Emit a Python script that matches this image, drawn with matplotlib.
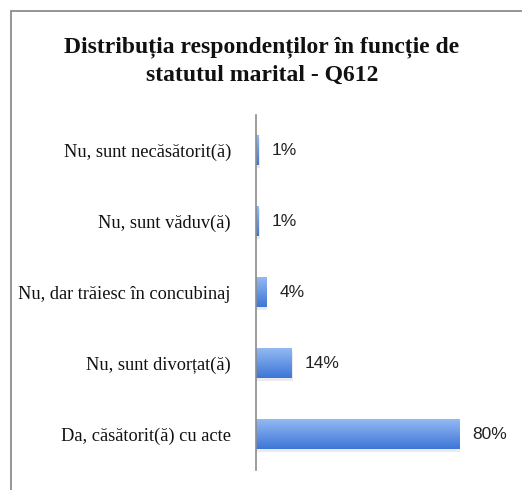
import matplotlib.pyplot as plt
import numpy as np
from matplotlib.patches import Rectangle

categories = [
    "Nu, sunt necăsătorit(ă)",
    "Nu, sunt văduv(ă)",
    "Nu, dar trăiesc în concubinaj",
    "Nu, sunt divorțat(ă)",
    "Da, căsătorit(ă) cu acte",
]
values = [1, 1, 4, 14, 80]
title = "Distribuția respondenților în funcție de\nstatutul marital - Q612"

W, H = 522, 490
fig = plt.figure(figsize=(W / 100, H / 100), dpi=100)
fig.patch.set_facecolor("white")

# chart frame (runs off the right and bottom edges)
fig.add_artist(Rectangle((11 / W, -0.1), 1.2, 1 - 11 / H + 0.1,
                         transform=fig.transFigure, fill=False,
                         edgecolor="#8c8c8c", linewidth=1.3))

ax = fig.add_axes([256 / W, 1 - 470 / H, 254 / W, 355 / H])
n = len(categories)
ypos = np.arange(n)[::-1]
bar_h = 0.42

grad = np.linspace(0, 1, 64).reshape(-1, 1)
cmap = plt.matplotlib.colors.LinearSegmentedColormap.from_list(
    "bar", ["#93b9f3", "#3d76d6"])

for y, v in zip(ypos, values):
    # soft shadow
    ax.add_patch(Rectangle((0, y - bar_h / 2 - 0.03), v + 0.4, bar_h,
                           facecolor="#000000", alpha=0.08, linewidth=0, zorder=1))
    ax.imshow(grad, cmap=cmap, aspect="auto", zorder=2,
              extent=(0, v, y - bar_h / 2, y + bar_h / 2), origin="upper")
    ax.text(v + 5.2, y, f"{v}%", va="center", ha="left",
            fontsize=12.5, family="Liberation Sans", color="#222222")

ax.set_xlim(0, 100)
ax.set_ylim(-0.5, n - 0.5)
ax.set_yticks(ypos)
ax.set_yticklabels(categories, family="Liberation Serif", fontsize=13.2, color="#111111")
ax.tick_params(axis="y", length=0, pad=18)
ax.set_xticks([])
for s in ["top", "right", "bottom"]:
    ax.spines[s].set_visible(False)
ax.spines["left"].set_color("#8c8c8c")
ax.spines["left"].set_linewidth(1.2)

fig.text(262 / W, 1 - 61 / H, title, ha="center", va="center",
         family="Liberation Serif", fontweight="bold", fontsize=17,
         linespacing=1.45, color="#111111")

fig.savefig("out.png", dpi=100)
